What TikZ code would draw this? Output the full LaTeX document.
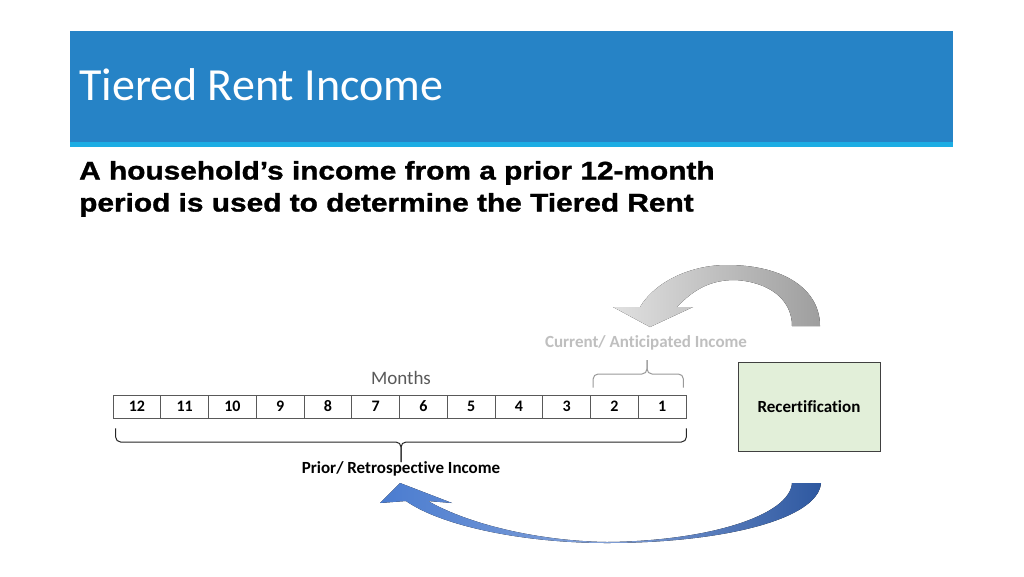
\documentclass[tikz,border=0pt]{standalone}
\usepackage{fontspec}
\setmainfont[Ligatures=NoCommon]{Carlito}
\newfontfamily\subfont[FakeStretch=1.17, FakeBold=1.2]{Liberation Sans Bold}
\usetikzlibrary{calc}
\definecolor{hdrblue}{HTML}{2683C6}
\definecolor{hdrcyan}{HTML}{1CADE4}
\definecolor{cellline}{HTML}{595959}
\definecolor{lightgraytxt}{HTML}{BFBFBF}
\definecolor{recfill}{HTML}{E2EFD9}
\tikzset{
  cell/.style={draw=cellline, line width=0.8pt, minimum width=47.75pt, minimum height=23pt, inner sep=0pt, font=\fontsize{16}{18}\selectfont\bfseries},
  lbl/.style={inner sep=0pt, font=\fontsize{17}{19}\selectfont\bfseries},
  bracepath/.style={line width=1pt, rounded corners=5pt},
}
\begin{document}
\begin{tikzpicture}[x=1pt,y=-1pt]
\useasboundingbox (0,0) rectangle (1024,576);
\fill[white] (0,0) rectangle (1024,576);
% header
\fill[hdrblue] (70,31) rectangle (953,142);
\fill[hdrcyan] (70,142) rectangle (953,147);
\node[anchor=base west, inner sep=0pt, text=white, font=\fontsize{46}{50}\selectfont] (title) at (79,100) {Tiered Rent Income};
% subtitle
\node[anchor=base west, inner sep=0pt, font=\fontsize{25.5}{32}\subfont] (sub1) at (79,179.5) {A household’s income from a prior 12-month};
\node[anchor=base west, inner sep=0pt, font=\fontsize{25.5}{32}\subfont] (sub2) at (79,211.5) {period is used to determine the Tiered Rent};
% month cells
\foreach \lab [count=\k from 0] in {12,11,10,9,8,7,6,5,4,3,2,1}{
  \node[cell] (m\lab) at ({113+47.75*\k+23.875},406.5) {\lab};
}
\node[inner sep=0pt, text=cellline, font=\fontsize{19}{21}\selectfont] (months) at (401,378) {Months};
% lower brace
\coordinate (bl) at ($(m12.south west)+(3,10)$);
\coordinate (br) at ($(m1.south east)+(0,10)$);
\coordinate (btip) at (401,462);
\draw[bracepath, black!85] (bl) -- (bl |- 0,442) -- (btip |- 0,442) -- (btip);
\draw[bracepath, black!85] (br) -- (br |- 0,442) -- (btip |- 0,442) -- (btip);
\node[lbl] (prior) at (401,469) {Prior/ Retrospective Income};
% upper brace
\coordinate (ul) at ($(m2.north west)+(3,-7)$);
\coordinate (ur) at ($(m1.north east)+(-3,-7)$);
\coordinate (utip) at (647,360);
\draw[bracepath, black!40] (ul) -- (ul |- 0,374) -- (utip |- 0,374) -- (utip);
\draw[bracepath, black!40] (ur) -- (ur |- 0,374) -- (utip |- 0,374) -- (utip);
\node[lbl, text=lightgraytxt] (current) at (646,343) {Current/ Anticipated Income};
% recertification
\node[draw=black!75, line width=0.8pt, fill=recfill, minimum width=142pt, minimum height=89pt, lbl] (recert) at (809,406.5) {Recertification};
% gray curved arrow
\fill[left color=black!12, right color=black!38]
  (820,326) .. controls (820,290) and (785,265) .. (727,265)
  .. controls (690,265) and (655,282) .. (640,307)
  -- (613,307) -- (650,327) -- (693,307) -- (677,307)
  .. controls (695,288) and (712,280) .. (735,280)
  .. controls (770,282) and (792,300) .. (792,326) -- cycle;
% blue curved arrow
\fill[left color={rgb,255:red,74;green,124;blue,208}, right color={rgb,255:red,46;green,88;blue,160}, middle color={rgb,255:red,130;green,160;blue,215}]
  (821,483) .. controls (818,520) and (720,543) .. (607,543)
  .. controls (520,543) and (440,525) .. (406,501)
  -- (380,503) -- (400,483) -- (452,503) -- (428,501)
  .. controls (470,525) and (540,541) .. (607,542)
  .. controls (710,541) and (790,515) .. (792,483) -- cycle;
\end{tikzpicture}
\end{document}
